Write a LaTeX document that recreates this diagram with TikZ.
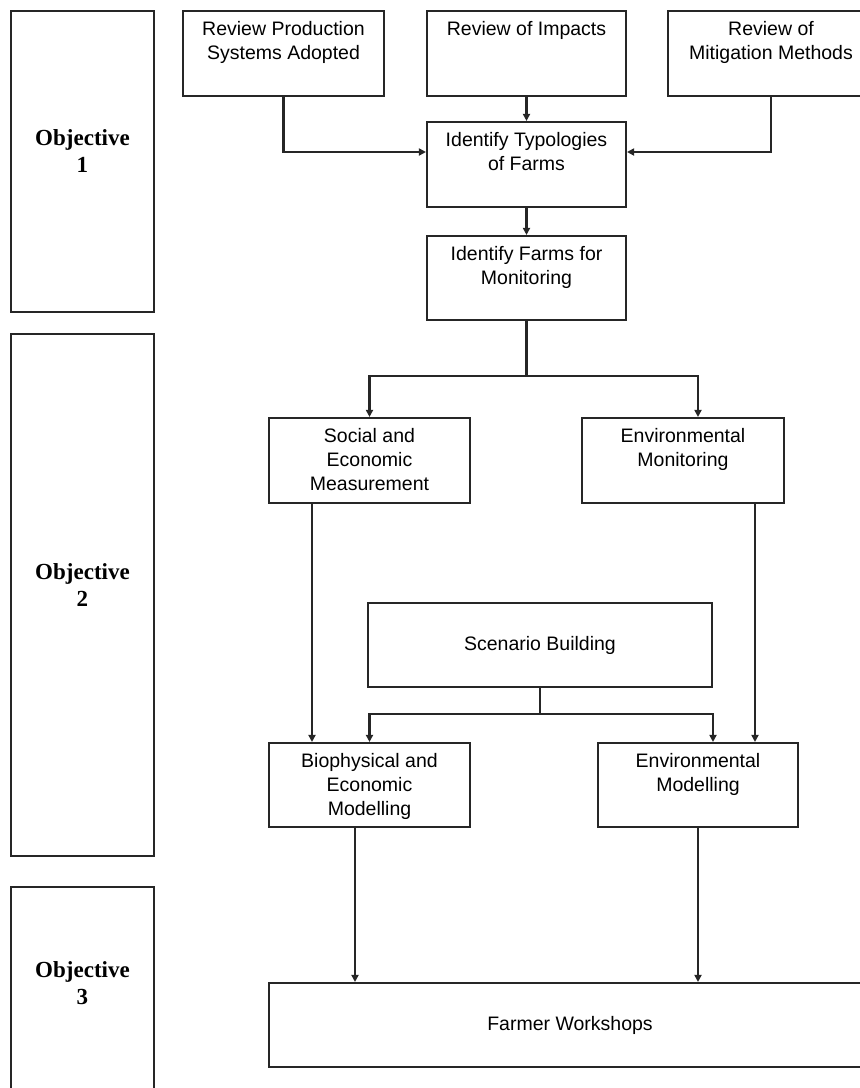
\documentclass[tikz,border=0pt]{standalone}
\usepackage{fontspec}
\setmainfont{Liberation Sans}
\newfontfamily\objfont{Liberation Serif}
\usetikzlibrary{arrows.meta}

\begin{document}
\begin{tikzpicture}[x=.5pt,y=-.5pt,font=\fontsize{9.75}{12}\selectfont,
  box/.style={draw=black!85,line width=1.05pt,inner sep=0pt},
  toptext/.style={label={[align=center,anchor=north,inner sep=5.5pt]north:#1}},
  objbox/.style={box,minimum width=71.5pt,label={[align=center,font=\objfont\bfseries\fontsize{11.5}{13.5}\selectfont,yshift=5pt]center:Objective\\#1}},
  link/.style={draw=black!85,line width=1.05pt},
  arr/.style={link,-{Triangle[length=3.5pt,width=3.5pt]}}]
\useasboundingbox (0,0) rectangle (860,1088);
\node[objbox=1,minimum height=150.5pt] (obj1) at (82.5,161.5) {};
\node[objbox=2,minimum height=261pt] (obj2) at (82.5,595) {};
\node[objbox=3,minimum height=106.5pt] (obj3) at (82.5,993.5) {};
\node[box,minimum width=100.5pt,minimum height=42.5pt,toptext={Review Production\\Systems Adopted}] (prod) at (283.5,53.5) {};
\node[box,minimum width=99.5pt,minimum height=42.5pt,toptext={Review of Impacts}] (impact) at (526.5,53.5) {};
\node[box,minimum width=103pt,minimum height=42.5pt,toptext={Review of\\Mitigation Methods}] (mitig) at (771,53.5) {};
\node[box,minimum width=99.5pt,minimum height=42.5pt,toptext={Identify Typologies\\of Farms}] (typol) at (526.5,164.5) {};
\node[box,minimum width=99.5pt,minimum height=42pt,toptext={Identify Farms for\\Monitoring}] (farms) at (526.5,278) {};
\node[box,minimum width=100.5pt,minimum height=42.5pt,toptext={Social and\\Economic\\Measurement}] (social) at (369.5,460.5) {};
\node[box,minimum width=101pt,minimum height=42.5pt,toptext={Environmental\\Monitoring}] (envmon) at (683,460.5) {};
\node[box,minimum width=172pt,minimum height=42pt] (scen) at (540,645) {Scenario Building};
\node[box,minimum width=100.5pt,minimum height=42pt,toptext={Biophysical and\\Economic\\Modelling}] (biophys) at (369.5,785) {};
\node[box,minimum width=100pt,minimum height=42pt,toptext={Environmental\\Modelling}] (envmod) at (698,785) {};
\node[box,minimum width=301pt,minimum height=42pt] (workshop) at (570,1025) {Farmer Workshops};
\draw[arr] (prod.south) |- ([yshift=6.25pt]typol.west);
\draw[arr] (mitig.south) |- ([yshift=6.25pt]typol.east);
\draw[arr] (impact.south) -- (typol.north);
\draw[arr] (typol.south) -- (farms.north);
\coordinate (fork1) at (526.5,376);
\draw[link] (farms.south) -- (fork1);
\draw[arr] (fork1) -| (social.north);
\draw[arr] (fork1) -| ([xshift=7.5pt]envmon.north);
\draw[arr] ([xshift=-28.75pt]social.south) -- ([xshift=-28.75pt]biophys.north);
\draw[arr] ([xshift=36pt]envmon.south) -- ([xshift=36pt]envmon.south |- envmod.north);
\coordinate (fork2) at (540,714);
\draw[link] (scen.south) -- (fork2);
\draw[arr] (fork2) -| (biophys.north);
\draw[arr] (fork2) -| ([xshift=7.5pt]envmod.north);
\draw[arr] ([xshift=-7.25pt]biophys.south) -- ([xshift=-7.25pt]biophys.south |- workshop.north);
\draw[arr] (envmod.south) -- (envmod.south |- workshop.north);
\end{tikzpicture}
\end{document}
